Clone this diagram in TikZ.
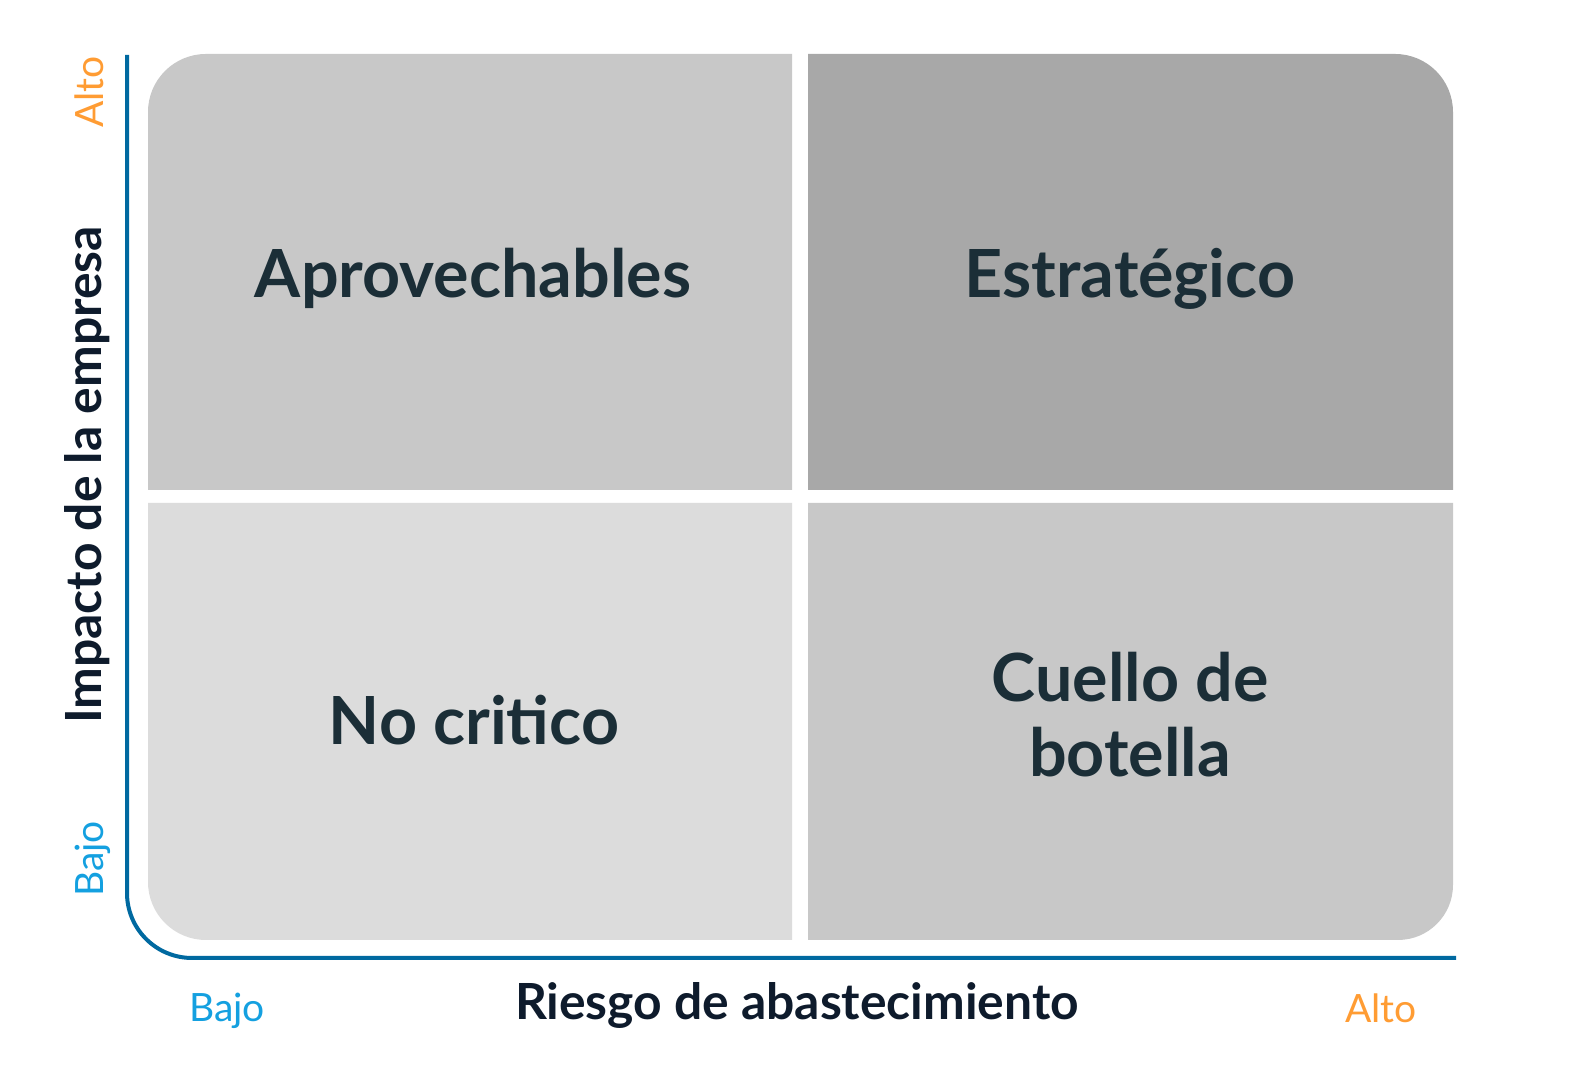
\documentclass[tikz,border=0pt]{standalone}
\usepackage{fontspec}
\setmainfont{Lato}
\usepackage{tikz}
\usetikzlibrary{calc}

\definecolor{quadtext}{RGB}{27,46,55}
\definecolor{axistext}{RGB}{14,27,44}
\definecolor{axisline}{RGB}{0,105,160}
\definecolor{altocol}{RGB}{255,156,51}
\definecolor{bajocol}{RGB}{20,160,224}
\definecolor{graymid}{RGB}{200,200,200}
\definecolor{graydark}{RGB}{168,168,168}
\definecolor{graylight}{RGB}{220,220,220}

\begin{document}
\begin{tikzpicture}[x=0.5pt, y=0.5pt,
  quadlabel/.style={anchor=base, text=quadtext, font=\fontsize{33.2}{37.5}\selectfont\bfseries, align=center},
  axistitle/.style={anchor=base, text=axistext, font=\fontsize{24.9}{28}\selectfont\bfseries},
  level/.style={anchor=base, font=\fontsize{19.5}{22}\selectfont}]
\useasboundingbox (0,0) rectangle (1571,1080);
\fill[white] (0,0) rectangle (1571,1080);

% quadrants
\fill[graymid] (148,590) -- (148,968) arc[start angle=180, end angle=90, radius=58] -- (792,1026) -- (792,590) -- cycle;
\fill[graydark] (808,590) -- (808,1026) -- (1395,1026) arc[start angle=90, end angle=0, radius=58] -- (1453,590) -- cycle;
\fill[graylight] (148,577) -- (148,198) arc[start angle=180, end angle=270, radius=58] -- (792,140) -- (792,577) -- cycle;
\fill[graymid] (808,577) -- (808,140) -- (1398,140) arc[start angle=270, end angle=360, radius=55] -- (1453,577) -- cycle;

% axes
\draw[axisline, line width=2pt, rounded corners=32.5pt] (127,1025) -- (127,122) -- (1456,122);

\node[quadlabel] (aprov) at (473,782) {Aprovechables};
\node[quadlabel] (estrat) at (1130,782) {Estratégico};
\node[quadlabel] (nocrit) at (474,335) {No critico};
\node[quadlabel] (cuello) at (1130,378) {Cuello de};
\node[quadlabel] (botella) at (1130,303) {botella};

\node[axistitle] (ejex) at (797,60) {Riesgo de abastecimiento};
\node[axistitle, rotate=90] (ejey) at (101,605) {Impacto de la empresa};

\node[level, text=bajocol] (xbajo) at (227,58) {Bajo};
\node[level, text=altocol] (xalto) at (1381,57) {Alto};
\node[level, text=bajocol, rotate=90] (ybajo) at (103,221) {Bajo};
\node[level, text=altocol, rotate=90] (yalto) at (103,988) {Alto};
\end{tikzpicture}
\end{document}
